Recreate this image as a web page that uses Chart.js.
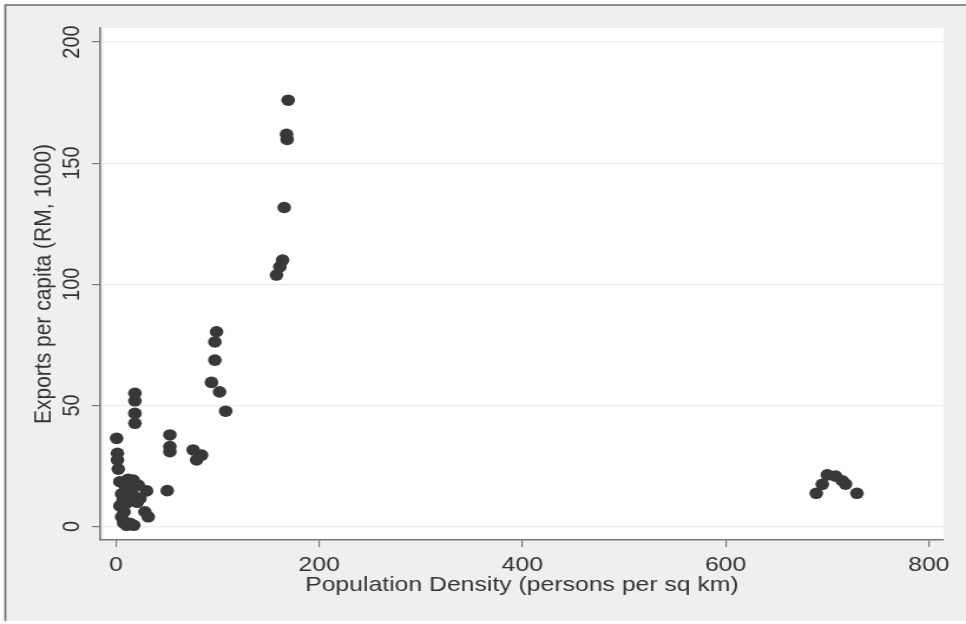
<!DOCTYPE html>
<html>
<head>
<meta charset="utf-8">
<script src="https://cdn.jsdelivr.net/npm/chart.js@4"></script>
<style>
  html, body { margin: 0; padding: 0; background: #ffffff; overflow: hidden; }
</style>
</head>
<body>
<canvas id="c" width="819" height="624" style="display:block;width:966px;height:624px;"></canvas>
<script>
// ---- data ----
const density = [
  0.7, 1.5, 1.5, 2.3, 3.9, 12, 17, 22, 30.2, 5.6, 11, 17, 23.6, 3.9, 10, 21, 28.5, 31.8, 5.6, 10.5, 17.5, 13.8,
  8, 13, 7, 13.5, 8, 7.5,
  18.7, 18.7, 18.7, 18.7,
  53.1, 53.1, 53.1, 50.5, 76, 79.4, 84.3,
  94, 97.4, 97.4, 99, 102, 108,
  158, 161.3, 164, 165.6, 167.9, 168.5, 169.5,
  689.2, 695.1, 700.1, 708.2, 714.8, 718, 729.2
];
const exportsPerCapita = [
  36.4, 30.2, 27.5, 23.7, 18.5, 19.5, 19.2, 17.1, 14.7, 13.5, 15, 13, 11.6, 8.5, 9.5, 10, 6.1, 4, 4, 0.5, 0.5, 1.3,
  17.5, 16.5, 11, 11.5, 6, 1.5,
  55, 51.9, 46.7, 42.6,
  37.8, 33, 30.9, 14.8, 31.6, 27.5, 29.5,
  59.5, 68.7, 76.2, 80.4, 55.6, 47.6,
  103.8, 107.2, 110, 131.7, 161.9, 159.8, 176,
  13.7, 17.4, 21.3, 20.8, 18.9, 17.5, 13.7
];
const xTicks = [0, 200, 400, 600, 800];
const yTicks = [0, 50, 100, 150, 200];
const xTitle = 'Population Density (persons per sq km)';
const yTitle = 'Exports per capita (RM, 1000)';

const FONT = "'Liberation Sans', Arial, Helvetica, sans-serif";
const TEXT = '#333333';
const AXIS = '#7a7a7a';

const bgPlugin = {
  id: 'bg',
  beforeDraw(chart) {
    const { ctx, chartArea: a, width, height } = chart;
    ctx.save();
    ctx.fillStyle = '#ffffff';
    ctx.fillRect(0, 0, width, height);
    ctx.fillStyle = '#efefef';
    ctx.fillRect(4, 5, width - 4, 616);
    ctx.strokeStyle = '#6a6a6a';
    ctx.lineWidth = 1.6;
    ctx.beginPath();
    ctx.moveTo(4.5, 621);
    ctx.lineTo(4.5, 5);
    ctx.lineTo(width, 5);
    ctx.stroke();
    ctx.fillStyle = '#ffffff';
    ctx.fillRect(a.left + 2.5, a.top, a.right - a.left - 2.5, a.bottom - a.top - 1.5);
    ctx.restore();
  }
};

new Chart(document.getElementById('c'), {
  type: 'scatter',
  data: {
    datasets: [{
      data: density.map((x, i) => ({ x: x, y: exportsPerCapita[i] })),
      pointRadius: 5.8,
      pointHoverRadius: 5.8,
      backgroundColor: '#383838',
      borderColor: '#383838',
      borderWidth: 0
    }]
  },
  options: {
    responsive: false,
    animation: false,
    devicePixelRatio: 1,
    layout: { padding: { top: 28, right: 19, left: 0, bottom: 0 } },
    plugins: { legend: { display: false }, tooltip: { enabled: false } },
    scales: {
      x: {
        type: 'linear',
        position: 'bottom',
        min: -15.4,
        max: 814.5,
        afterBuildTicks: s => { s.ticks = xTicks.map(v => ({ value: v })); },
        afterFit: s => { s.height = 84; s.paddingLeft = 0; s.paddingRight = 0; },
        grid: { drawOnChartArea: false, tickLength: 7, tickColor: AXIS, lineWidth: 1.2 },
        border: { color: AXIS, width: 1.6 },
        ticks: {
          font: { family: FONT, size: 21 }, color: TEXT, padding: 6,
          minRotation: 0, maxRotation: 0, autoSkip: false
        },
        title: {
          display: true, text: xTitle, color: TEXT,
          font: { family: FONT, size: 21 }, padding: { top: 0, bottom: 26.4 }
        }
      },
      y: {
        type: 'linear',
        position: 'left',
        min: -5.57,
        max: 205.8,
        afterBuildTicks: s => { s.ticks = yTicks.map(v => ({ value: v })); },
        afterFit: s => { s.width = 85; s.paddingTop = 0; s.paddingBottom = 0; },
        grid: { color: '#ececec', lineWidth: 1.2, tickLength: 7, tickColor: AXIS },
        border: { color: AXIS, width: 1.6 },
        ticks: {
          font: { family: FONT, size: 20 }, color: TEXT, padding: 0,
          minRotation: 90, maxRotation: 90, crossAlign: 'center', autoSkip: false
        },
        title: {
          display: true, text: yTitle, color: TEXT,
          font: { family: FONT, size: 21 }, padding: { top: 24.7, bottom: 0 }
        }
      }
    }
  },
  plugins: [bgPlugin]
});
</script>
</body>
</html>
